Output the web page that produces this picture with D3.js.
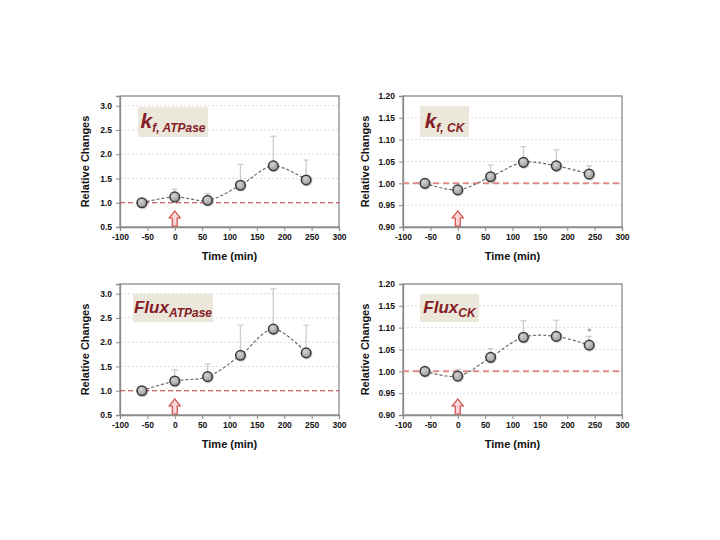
<!DOCTYPE html>
<html>
<head>
<meta charset="utf-8">
<script src="https://cdn.jsdelivr.net/npm/d3@7"></script>
<style>
  html, body { margin: 0; padding: 0; background: #fff; }
  svg { display: block; font-family: "Liberation Sans", Arial, sans-serif; }
</style>
</head>
<body>
<div id="chart"></div>
<script>
'use strict';

// time points (min), same for every panel
var times = [-60, 0, 60, 120, 180, 240];
var xTicks = [-100, -50, 0, 50, 100, 150, 200, 250, 300];

var atpaseTicks = [0.5, 1.0, 1.5, 2.0, 2.5, 3.0];
var ckTicks = [0.90, 0.95, 1.00, 1.05, 1.10, 1.15, 1.20];

var kfAtpase = [1.00, 1.12, 1.05, 1.36, 1.76, 1.47];
var kfAtpaseErr = [0, 0.16, 0.14, 0.43, 0.61, 0.41];

var kfCk = [1.000, 0.985, 1.015, 1.048, 1.040, 1.021];
var kfCkErr = [0, 0.004, 0.027, 0.036, 0.037, 0.019];

var fluxAtpase = [1.00, 1.20, 1.29, 1.73, 2.27, 1.78];
var fluxAtpaseErr = [0, 0.23, 0.26, 0.62, 0.83, 0.57];

var fluxCk = [1.000, 0.989, 1.032, 1.078, 1.080, 1.060];
var fluxCkErr = [0, 0.015, 0.020, 0.038, 0.037, 0.020];
var fluxCkStar = [240];   // significant point(s)

var W = 720, H = 540;

var panels = [
  { title: 'k', sub: 'f, ATPase', vals: kfAtpase, err: kfAtpaseErr, ticks: atpaseTicks, ymax: 3.2, fmt: '.1f', ck: false,
    x0: 120, y0: 96, box: [18, 11, 70, 30], titleSize: 21, subSize: 12, star: [] },
  { title: 'k', sub: 'f, CK', vals: kfCk, err: kfCkErr, ticks: ckTicks, ymax: 1.2, fmt: '.2f', ck: true,
    x0: 403, y0: 96, box: [17, 10, 49, 31], titleSize: 21, subSize: 12, star: [] },
  { title: 'Flux', sub: 'ATPase', vals: fluxAtpase, err: fluxAtpaseErr, ticks: atpaseTicks, ymax: 3.2, fmt: '.1f', ck: false,
    x0: 120, y0: 284, box: [13, 10, 80, 28], titleSize: 17, subSize: 12, star: [] },
  { title: 'Flux', sub: 'CK', vals: fluxCk, err: fluxCkErr, ticks: ckTicks, ymax: 1.2, fmt: '.2f', ck: true,
    x0: 403, y0: 284, box: [17, 10, 59, 28], titleSize: 17, subSize: 12, star: fluxCkStar }
];

var pw = 219, ph = 131;

var svg = d3.select('#chart').append('svg')
    .attr('width', W)
    .attr('height', H);

var defs = svg.append('defs');
var grad = defs.append('radialGradient')
    .attr('id', 'dotfill')
    .attr('cx', '40%').attr('cy', '35%').attr('r', '65%');
grad.append('stop').attr('offset', '0%').attr('stop-color', '#d4d4d4');
grad.append('stop').attr('offset', '100%').attr('stop-color', '#9a9a9a');

panels.forEach(function(p){
  var g = svg.append('g').attr('transform', 'translate(' + p.x0 + ',' + p.y0 + ')');

  var x = d3.scaleLinear().domain([-100, 300]).range([0, pw]);
  var y = d3.scaleLinear().domain([p.ticks[0], p.ymax]).range([ph, 0]);

  // grid
  g.append('g').selectAll('line')
    .data(p.ticks.slice(1))
    .join('line')
      .attr('x1', 0).attr('x2', pw)
      .attr('y1', d => y(d)).attr('y2', d => y(d))
      .attr('stroke', '#dcdcdc')
      .attr('stroke-dasharray', '2,2')
      .attr('stroke-width', 1);

  // frame
  g.append('rect')
    .attr('width', pw).attr('height', ph)
    .attr('fill', 'none')
    .attr('stroke', '#8a8a8a')
    .attr('stroke-width', 1.3);

  // axes (plain hyphen for negatives, like the original)
  var xAxis = d3.axisBottom(x).tickValues(xTicks).tickFormat(d => String(d)).tickSize(4).tickPadding(3);
  var yAxis = d3.axisLeft(y).tickValues(p.ticks).tickFormat(d3.format(p.fmt)).tickSize(4).tickPadding(4);

  var gx = g.append('g').attr('transform', 'translate(0,' + ph + ')').call(xAxis);
  var gy = g.append('g').call(yAxis);
  [gx, gy].forEach(function(a){
    a.select('.domain').attr('stroke', '#8a8a8a').attr('stroke-width', 1.3);
    a.selectAll('.tick line').attr('stroke', '#8a8a8a');
    a.selectAll('.tick text')
      .attr('fill', '#111')
      .style('font-size', '8.5px')
      .style('font-weight', 'bold')
      .style('font-family', '"Liberation Sans", Arial, sans-serif');
  });

  // reference line at 1.0
  g.append('line')
    .attr('x1', 0).attr('x2', pw)
    .attr('y1', y(1)).attr('y2', y(1))
    .attr('stroke', p.ck ? '#e08a8a' : '#c83a3a')
    .attr('stroke-width', p.ck ? 2 : 1.2)
    .attr('stroke-dasharray', p.ck ? '6,4' : '5,3');

  // arrow at t = 0
  var ax = x(0), ab = ph - 1;
  var arrow = [[ax - 2.5, ab], [ax + 2.5, ab], [ax + 2.5, ab - 8], [ax + 5.5, ab - 8],
               [ax, ab - 15], [ax - 5.5, ab - 8], [ax - 2.5, ab - 8]];
  g.append('path')
    .attr('d', d3.line()(arrow) + 'Z')
    .attr('fill', '#f9d6d6')
    .attr('stroke', '#d04848')
    .attr('stroke-width', 1.2);

  var pts = times.map(function(t, i){ return { t: t, v: p.vals[i], e: p.err[i] }; });

  // error bars (upper only)
  var eb = g.append('g')
    .attr('stroke', '#cdcdcd')
    .attr('stroke-width', 1.3);
  eb.selectAll('line.v')
    .data(pts.filter(d => d.e > 0))
    .join('line')
      .attr('class', 'v')
      .attr('x1', d => x(d.t)).attr('x2', d => x(d.t))
      .attr('y1', d => y(d.v)).attr('y2', d => y(d.v + d.e));
  eb.selectAll('line.c')
    .data(pts.filter(d => d.e > 0))
    .join('line')
      .attr('class', 'c')
      .attr('x1', d => x(d.t) - 3).attr('x2', d => x(d.t) + 3)
      .attr('y1', d => y(d.v + d.e)).attr('y2', d => y(d.v + d.e));

  // smoothed dashed line
  var line = d3.line()
      .x(d => x(d.t))
      .y(d => y(d.v))
      .curve(d3.curveCatmullRom.alpha(0.5));
  g.append('path')
    .datum(pts)
    .attr('d', line)
    .attr('fill', 'none')
    .attr('stroke', '#6a6a6a')
    .attr('stroke-width', 1.2)
    .attr('stroke-dasharray', '3,2');

  // markers
  g.append('g').selectAll('circle.sh')
    .data(pts)
    .join('circle')
      .attr('cx', d => x(d.t) + 0.8)
      .attr('cy', d => y(d.v) + 1)
      .attr('r', 5.6)
      .attr('fill', 'rgba(0,0,0,0.15)');
  g.append('g').selectAll('circle.pt')
    .data(pts)
    .join('circle')
      .attr('cx', d => x(d.t))
      .attr('cy', d => y(d.v))
      .attr('r', 4.8)
      .attr('fill', 'url(#dotfill)')
      .attr('stroke', '#3a3a3a')
      .attr('stroke-width', 1.5);

  // asterisk
  g.selectAll('text.star')
    .data(pts.filter(d => p.star.indexOf(d.t) >= 0))
    .join('text')
      .attr('class', 'star')
      .attr('x', d => x(d.t))
      .attr('y', d => y(d.v + d.e) - 1)
      .attr('text-anchor', 'middle')
      .attr('fill', '#777')
      .style('font-family', '"DejaVu Sans", sans-serif')
      .style('font-size', '9px')
      .text('*');

  // title box
  var b = p.box;
  g.append('rect')
    .attr('x', b[0]).attr('y', b[1])
    .attr('width', b[2]).attr('height', b[3])
    .attr('fill', '#ebe7db');
  var tt = g.append('text')
    .attr('x', b[0] + b[2] / 2)
    .attr('y', b[1] + b[3] / 2 + p.titleSize * 0.3)
    .attr('text-anchor', 'middle')
    .attr('fill', '#861c25')
    .style('font-weight', 'bold')
    .style('font-style', 'italic');
  tt.append('tspan').style('font-size', p.titleSize + 'px').text(p.title);
  tt.append('tspan').attr('dy', 4).style('font-size', p.subSize + 'px').text(p.sub);

  // axis titles
  g.append('text')
    .attr('x', pw / 2)
    .attr('y', ph + 33)
    .attr('text-anchor', 'middle')
    .attr('fill', '#111')
    .style('font-size', '11px')
    .style('font-weight', 'bold')
    .text('Time (min)');
  g.append('text')
    .attr('transform', 'translate(' + (p.ck ? -34 : -31) + ',' + (ph / 2) + ') rotate(-90)')
    .attr('text-anchor', 'middle')
    .attr('fill', '#111')
    .style('font-size', '11px')
    .style('font-weight', 'bold')
    .text('Relative Changes');
});
</script>
</body>
</html>
